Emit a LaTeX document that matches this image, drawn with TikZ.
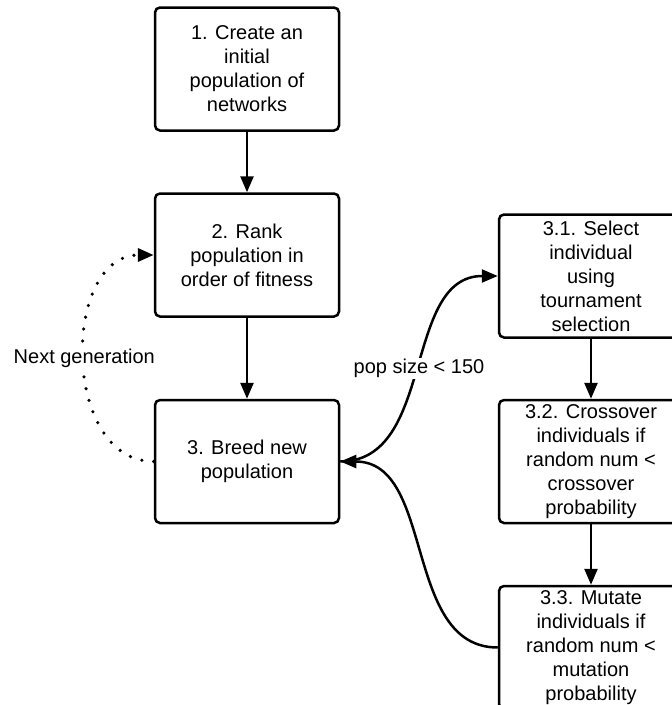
\documentclass[tikz,border=0pt]{standalone}
\usepackage{fontspec}
\setmainfont{Liberation Sans}
\usetikzlibrary{arrows.meta}
\begin{document}
\begin{tikzpicture}[x=1pt,y=-1pt,
  stepbox/.style={draw, line width=2.5pt, rounded corners=5pt, minimum width=184pt,
    minimum height=123pt, align=center, font=\fontsize{20}{24}\selectfont, inner sep=0pt},
  conn/.style={line width=2.5pt, -{Triangle[length=16pt,width=13pt]}},
  dotconn/.style={line width=3.6pt, dash pattern=on 0pt off 12pt, line cap=round,
    -{Triangle[length=16pt,width=13pt]}},
  lbl/.style={fill=white, font=\fontsize{20}{24}\selectfont, inner sep=1pt}]
\useasboundingbox (0,0) rectangle (672,705);
\clip (0,0) rectangle (672,705);
\fill[white] (0,0) rectangle (672,705);

\node[stepbox] (b1) at (247,69) {1. Create an\\initial\\population of\\networks};
\node[stepbox] (b2) at (247,255) {2. Rank\\population in\\order of fitness};
\node[stepbox] (b3) at (247,461.5) {3. Breed new\\population};
\node[stepbox] (b31) at (591,276) {3.1. Select\\individual\\using\\tournament\\selection};
\node[stepbox] (b32) at (591,461.5) {3.2. Crossover\\individuals if\\random num <\\crossover\\probability};
\node[stepbox] (b33) at (591,647.5) {3.3. Mutate\\individuals if\\random num <\\mutation\\probability};

\draw[conn] (b1) -- (b2);
\draw[conn] (b2) -- (b3);
\draw[conn] (b31) -- (b32);
\draw[conn] (b32) -- (b33);

\draw[conn] (b3.east) to[out=0,in=180] node[lbl]{pop size < 150} (b31.west);
\draw[conn] (b33.west) to[out=180,in=0] (b3.east);
\draw[dotconn] (b3.west) to[out=180,in=180,looseness=1.15] node[lbl,pos=0.5]{Next generation} (b2.west);
\end{tikzpicture}
\end{document}
